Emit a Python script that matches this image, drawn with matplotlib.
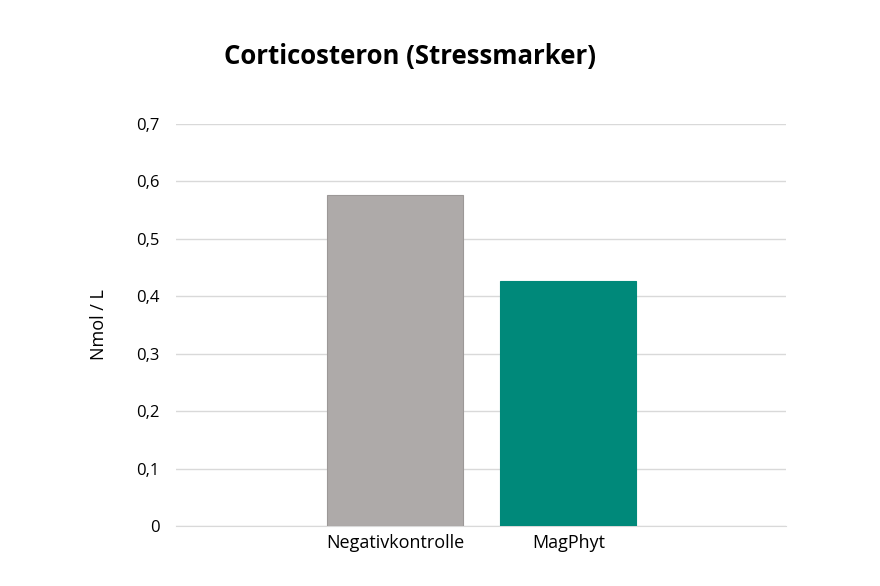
import matplotlib.pyplot as plt
from matplotlib.ticker import FuncFormatter

categories = ['Negativkontrolle', 'MagPhyt']
values = [0.577, 0.426]
colors = ['#aeaaa9', '#00897a']
edges = ['#9c9897', '#00897a']

plt.rcParams['font.family'] = ['Open Sans', 'DejaVu Sans']

fig = plt.figure(figsize=(8.8, 5.86), dpi=100)
ax = fig.add_axes([0.2, 0.1024, 0.693, 0.686])

x = list(range(len(categories)))
ax.bar(x, values, width=0.786, color=colors, edgecolor=edges, linewidth=0.8, zorder=3)

ax.set_ylim(0, 0.7)
ax.set_xlim(-1.266, 2.257)
ax.set_yticks([0, 0.1, 0.2, 0.3, 0.4, 0.5, 0.6, 0.7])
ax.yaxis.set_major_formatter(FuncFormatter(lambda v, p: '0' if v == 0 else f'{v:.1f}'.replace('.', ',')))
ax.set_xticks(x)
ax.set_xticklabels(categories, fontsize=13)
ax.tick_params(axis='y', labelsize=12, length=0, pad=12)
ax.tick_params(axis='x', length=0, pad=6)
ax.grid(axis='y', color='#d9d9d9', linewidth=1, zorder=0)
for s in ['top', 'right', 'left']:
    ax.spines[s].set_visible(False)
ax.spines['bottom'].set_color('#d9d9d9')

ax.set_ylabel('Nmol / L', fontsize=13, labelpad=20)
fig.text(0.466, 0.903, 'Corticosteron (Stressmarker)', fontsize=18.5, fontweight='bold',
         ha='center', va='center')

fig.savefig('out.png', dpi=100)
